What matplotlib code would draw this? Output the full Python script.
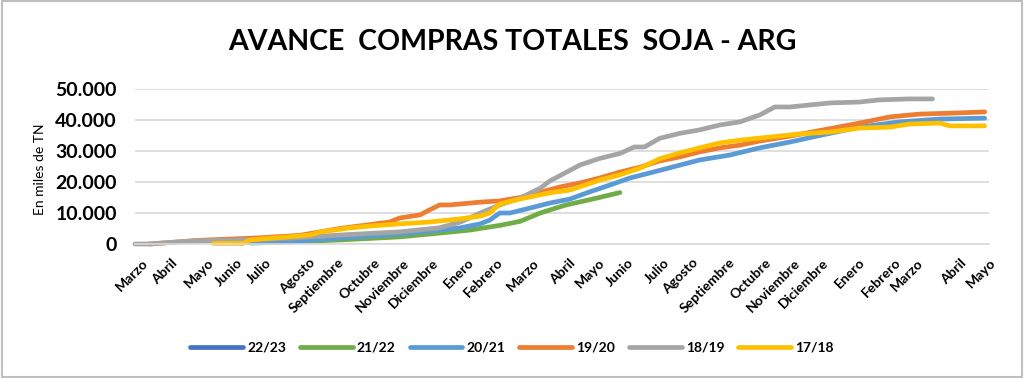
import matplotlib
matplotlib.use("Agg")
import matplotlib.pyplot as plt
from matplotlib.patches import Rectangle

plt.rcParams['font.family'] = ['Lato', 'DejaVu Sans']

title = "AVANCE  COMPRAS TOTALES  SOJA - ARG"
ylabel = "En miles de TN"

# x axis: weeks from start of campaign, labels at the weeks Excel showed them
month_ticks = [1, 5, 10, 14, 18, 24, 28, 33, 37, 41, 46, 50, 55, 60, 64, 68, 73, 77, 82, 87, 91, 95, 100, 105, 108, 114, 118]
month_labels = ["Marzo", "Abril", "Mayo", "Junio", "Julio", "Agosto", "Septiembre", "Octubre", "Noviembre", "Diciembre",
                "Enero", "Febrero", "Marzo", "Abril", "Mayo", "Junio", "Julio", "Agosto", "Septiembre", "Octubre",
                "Noviembre", "Diciembre", "Enero", "Febrero", "Marzo", "Abril", "Mayo"]

# values in thousands of tonnes
wk_2223 = []
val_2223 = []

wk_2122 = [16, 22.8, 28.3, 36.6, 40.7, 46.3, 50.4, 53.2, 56, 59.4, 63.8, 67]
val_2122 = [0.3, 0.8, 1.3, 2.3, 3.2, 4.5, 6.0, 7.3, 10.0, 12.5, 14.8, 16.6]

wk_2021 = [14.5, 17.3, 22.8, 28.3, 36.6, 42.1, 44.9, 47.7, 49, 50.4, 51.8, 54.6, 57.3, 60.1, 62.8, 65.6, 68.4,
           71.1, 73.9, 78, 82.2, 86.3, 90.5, 94.6, 100.1, 105.7, 111.2, 117.4]
val_2021 = [0.3, 0.7, 1.0, 1.9, 3.2, 4.5, 5.2, 6.5, 7.7, 10.0, 10.0, 11.6, 13.2, 14.5, 16.8, 19.0, 21.3,
            22.9, 24.6, 27.1, 28.7, 31.0, 32.9, 35.0, 37.7, 39.4, 40.3, 40.6]

wk_1920 = [2, 9, 17.3, 22.8, 28.3, 35.2, 36.6, 39.4, 40.7, 42.1, 43.5, 47.7, 50.4, 53.2, 54.6, 58.7, 61.5, 64.2,
           67, 69.8, 72.5, 75.3, 78, 80.8, 83.6, 86.3, 90.5, 94.6, 100.1, 104.3, 108.4, 114, 117.4]
val_1920 = [0, 1.2, 2.0, 2.8, 5.0, 7.1, 8.4, 9.4, 11.0, 12.6, 12.6, 13.5, 13.9, 15.0, 15.8, 18.4, 19.7, 21.3,
            23.2, 24.8, 26.8, 28.1, 29.7, 31.0, 31.9, 33.2, 34.8, 36.6, 39.0, 41.0, 41.9, 42.3, 42.6]

wk_1819 = [0, 2, 8, 14.5, 21.5, 28.3, 36.5, 42, 45, 47.7, 50.4, 53.2, 56, 57.3, 61.5, 64.2, 67, 69, 70.4,
           72.5, 75.3, 78, 80.8, 83.6, 86.3, 88.4, 90.5, 96, 100.1, 102.9, 107, 110.2]
val_1819 = [0, 0, 1.0, 1.3, 1.9, 2.9, 3.9, 5.2, 7.1, 10.0, 12.6, 14.8, 18.0, 20.3, 25.5, 27.6, 29.2, 31.3, 31.3,
            34.1, 35.7, 36.8, 38.4, 39.4, 41.6, 44.2, 44.2, 45.5, 45.8, 46.5, 46.8, 46.8]

wk_1718 = [10.8, 14.9, 15.9, 24.2, 25.6, 29.7, 32.5, 36.6, 40.7, 44.9, 47.7, 49, 50.4, 53.2, 57.3, 60.1, 64.2,
           67, 69.8, 72.5, 75.3, 78, 80.8, 83.6, 87.7, 91.8, 96, 100.1, 104.3, 107, 111.2, 112.6, 117.4]
val_1718 = [0.2, 0.2, 1.3, 2.9, 3.9, 5.2, 5.8, 6.5, 7.1, 8.1, 9.0, 10.0, 12.9, 14.5, 16.5, 17.4, 20.6,
            22.3, 24.5, 27.5, 29.4, 31.0, 32.6, 33.5, 34.5, 35.5, 36.1, 37.4, 37.7, 38.7, 39.0, 38.1, 38.1]

series = [
    ("22/23", wk_2223, val_2223, "#4472C4"),
    ("21/22", wk_2122, val_2122, "#70AD47"),
    ("20/21", wk_2021, val_2021, "#5B9BD5"),
    ("19/20", wk_1920, val_1920, "#ED7D31"),
    ("18/19", wk_1819, val_1819, "#A5A5A5"),
    ("17/18", wk_1718, val_1718, "#FFC000"),
]

fig = plt.figure(figsize=(10.24, 3.78), dpi=100)
ax = fig.add_axes([135 / 1024, 1 - 244 / 378, 854 / 1024, 155 / 378])

for name, wk, vals, color in series:
    ax.plot(wk, [v * 1000 for v in vals], color=color, linewidth=3.4, label=name,
            solid_capstyle='round', clip_on=False)

ax.set_xlim(0, 118)
ax.set_ylim(0, 50000)
ax.set_yticks(range(0, 50001, 10000))
ax.set_yticklabels(["0" if v == 0 else f"{v // 1000}.000" for v in range(0, 50001, 10000)],
                   fontsize=14, fontweight='bold')
ax.set_xticks(month_ticks)
ax.set_xticklabels(month_labels, rotation=45, ha='right', va='top', rotation_mode='anchor',
                   fontsize=10, fontweight='bold')
ax.tick_params(axis='y', length=0, pad=13)
ax.tick_params(axis='x', length=0, pad=9)
ax.grid(axis='y', color='#d9d9d9', linewidth=1.2)
ax.set_axisbelow(True)
for s in ['top', 'right', 'left']:
    ax.spines[s].set_visible(False)
ax.spines['bottom'].set_color('#d9d9d9')
ax.spines['bottom'].set_linewidth(1.2)

fig.text(40 / 1024, 1 - 169 / 378, ylabel, rotation=90, ha='center', va='center', fontsize=10)
fig.text(512 / 1024, 1 - 42 / 378, title, ha='center', va='center', fontsize=20.5, fontweight='bold')

fig.legend(loc='center', bbox_to_anchor=(0.5, 1 - 348 / 378), ncol=6, frameon=False,
           handlelength=3.8, columnspacing=1.0, handletextpad=0.3,
           prop={'weight': 'bold', 'size': 10})

fig.patches.append(Rectangle((0.002, 0.003), 0.996, 0.994, transform=fig.transFigure,
                             fill=False, edgecolor='#bfbfbf', linewidth=1.5))

plt.savefig("out.png", dpi=100)
plt.close()
